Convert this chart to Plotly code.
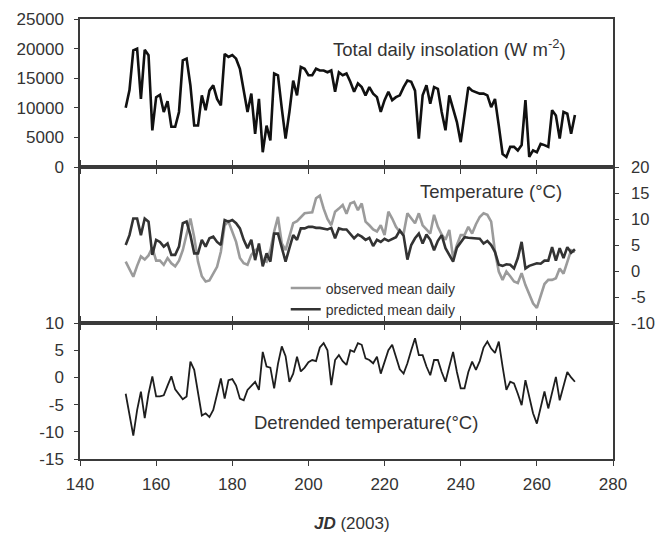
import plotly.graph_objects as go

days = list(range(152, 271))

insolation = [
    10000, 13000, 19700, 20000, 11500, 19800, 18900, 6200, 11800, 12200,
    9300, 11100, 6800, 6800, 9300, 18000, 18300, 13800, 7000, 7000,
    12100, 9600, 12900, 13800, 11500, 10400, 19100, 18600, 18900, 18300,
    16600, 12700, 9300, 12400, 5600, 11500, 2500, 7000, 4500, 15800,
    15500, 9900, 4800, 9300, 14600, 12100, 16900, 16600, 15500, 15500,
    16600, 16300, 16300, 16000, 16300, 12700, 16000, 15500, 15800, 14400,
    12700, 14100, 13500, 12100, 13500, 12400, 11800, 9300, 11300, 12700,
    11300, 11800, 12100, 13500, 14600, 14400, 12900, 4800, 12100, 13800,
    10700, 13500, 13200, 9300, 6200, 12100, 9900, 7600, 4200, 9300,
    13500, 12900, 12700, 12400, 12400, 12100, 10100, 11500, 7000, 2200,
    1700, 3400, 3400, 2800, 3700, 11300, 1700, 2800, 2500, 3900,
    3700, 3400, 9600, 8700, 4800, 9300, 9000, 5600, 8800,
]

observed = [
    1.8, 0.3, -1.1, 1.0, 2.8, 2.2, 3.0, 4.5, 2.0, 2.0,
    1.2, 2.5, 1.5, 0.9, 2.0, 4.0, 7.0, 10.1, 6.5, 1.8,
    -1.0, -2.0, -1.8, -0.5, 0.8, 3.7, 8.8, 9.5, 7.6, 5.6,
    2.5, 1.5, 1.2, 3.1, 4.0, 4.4, 2.1, 1.8, 4.0, 7.6,
    10.4, 5.3, 4.0, 6.5, 9.2, 9.6, 10.4, 11.1, 11.2, 11.3,
    14.0, 14.5, 12.0, 10.0, 8.8, 11.4, 12.0, 12.7, 11.0, 13.0,
    13.3, 11.7, 13.0, 9.5, 8.8, 8.0, 7.6, 8.8, 6.9, 11.4,
    10.1, 8.5, 7.5, 7.2, 11.1, 10.1, 9.2, 11.1, 8.8, 8.0,
    7.2, 10.8, 8.5, 7.0, 6.0, 7.9, 2.5, 5.0, 6.9, 6.9,
    8.5, 7.2, 9.0, 10.4, 11.1, 10.8, 9.5, 3.7, -0.1, -1.7,
    -0.1, -1.0, -2.0, -2.3, -0.4, -2.7, -4.5, -6.2, -7.1, -4.6,
    -2.5, -1.7, -1.7, -1.4, 0.5, -0.5, 1.8, 4.0, 3.7,
]

predicted = [
    5.0, 6.9, 10.1, 10.1, 6.9, 10.1, 9.5, 3.1, 6.0, 5.6,
    4.7, 5.3, 3.1, 3.1, 4.7, 9.2, 9.5, 6.9, 3.4, 3.4,
    6.0, 4.7, 6.3, 6.6, 5.6, 5.0, 9.8, 9.5, 9.8, 9.2,
    8.2, 6.0, 4.4, 6.0, 2.1, 5.3, 0.9, 3.4, 1.8, 7.2,
    7.2, 4.4, 1.8, 4.4, 6.9, 6.0, 8.2, 8.2, 8.5, 8.5,
    8.3, 8.3, 8.2, 8.0, 8.3, 6.3, 8.2, 8.0, 8.0, 7.2,
    6.3, 7.0, 6.6, 6.0, 6.4, 4.8, 6.0, 5.6, 6.2, 5.8,
    6.2, 6.5, 7.8, 6.8, 2.2, 5.0, 6.3, 7.2, 5.3, 7.0,
    6.0, 4.0, 5.8, 6.9, 4.4, 3.0, 1.8, 4.5, 5.5, 6.5,
    6.4, 6.3, 6.3, 6.2, 5.3, 5.8, 5.0, 3.7, 1.2, 1.0,
    1.3, 1.2, 0.5, 2.5, 5.6, 0.5, 1.0, 1.3, 1.5, 1.4,
    2.0, 2.0, 4.6, 2.0, 4.4, 2.5, 4.6, 3.5, 4.2,
]

detrended = [
    -3.0, -6.5, -10.7, -6.0, -2.6, -7.5, -3.0, 0.2, -3.5, -3.5,
    -3.3, -1.5, 0.2, -2.2, -3.0, -4.0, -3.5, 2.9, 1.4, -3.0,
    -7.0, -6.6, -7.3, -6.0, -3.0, -0.2, -3.9, -0.5, -0.3, -1.5,
    -3.9, -4.2, -2.3, -1.5, -0.8, -2.3, 4.7, 2.0, 1.8, -2.0,
    2.5, 5.7, 3.9, -0.8, 0.7, 3.8, 1.1, 1.8, 2.8, 3.2,
    3.0, 5.5, 6.3, 5.0, -1.4, 3.2, 4.1, 3.0, 2.3, 5.0,
    4.7, 6.3, 6.0, 3.5, 3.2, 2.6, 3.8, 0.7, 3.0, 5.0,
    6.0, 3.5, 1.5, 0.7, 2.6, 5.0, 7.2, 4.1, 4.1, 2.0,
    0.4, 3.2, 3.2, 1.0, -0.8, 2.0, 4.7, 1.0, -2.0, -2.0,
    1.0, 2.9, 1.4, 3.0, 5.5, 6.6, 5.3, 4.5, 6.6, 2.0,
    -2.3, -0.8, -1.1, -3.0, -5.1, -0.5, -3.5, -6.6, -8.5, -5.5,
    -2.6, -5.7, -3.0, 0.1, -4.2, -1.5, 1.0, 0.0, -0.8,
]

for arr in (insolation, observed, predicted, detrended):
    assert len(arr) == len(days), len(arr)

x_ticks = [140, 160, 180, 200, 220, 240, 260, 280]
x_ticktext = ["140", "160", "180", "200", "220", "240", "260", "280"]
ins_ticks = [0, 5000, 10000, 15000, 20000, 25000]
ins_ticktext = ["0", "5000", "10000", "15000", "20000", "25000"]
temp_ticks = [-10, -5, 0, 5, 10, 15, 20]
temp_ticktext = ["-10", "-5", "0", "5", "10", "15", "20"]
det_ticks = [-15, -10, -5, 0, 5, 10]
det_ticktext = ["-15", "-10", "-5", "0", "5", "10"]

FONT = "Liberation Sans, Arial, sans-serif"
AX = "#3a3a3a"
TICKFONT = dict(family=FONT, size=17, color="#333")

fig = go.Figure()
fig.add_trace(go.Scatter(x=days, y=insolation, mode="lines", xaxis="x", yaxis="y",
                         line=dict(color="#111111", width=2.6), showlegend=False))
fig.add_trace(go.Scatter(x=days, y=observed, mode="lines", xaxis="x2", yaxis="y2",
                         name="observed mean daily",
                         line=dict(color="#9b9b9b", width=2.6)))
fig.add_trace(go.Scatter(x=days, y=predicted, mode="lines", xaxis="x2", yaxis="y2",
                         name="predicted mean daily",
                         line=dict(color="#333333", width=2.6)))
fig.add_trace(go.Scatter(x=days, y=detrended, mode="lines", xaxis="x3", yaxis="y3",
                         line=dict(color="#1e1e1e", width=1.8), showlegend=False))

xcommon = dict(range=[140, 280], tickvals=x_ticks, showgrid=False, zeroline=False,
               showline=True, linecolor=AX, linewidth=1.5, tickcolor=AX,
               ticklen=5, tickwidth=1.2, automargin=False)
ycommon = dict(showgrid=False, zeroline=False, showline=True, linecolor=AX,
               linewidth=1.5, tickcolor=AX, ticklen=4, tickwidth=1.2,
               tickfont=TICKFONT, automargin=False)

d_top = [0.6636, 1.0]
d_mid = [0.309, 0.6636]
d_bot = [0.0, 0.309]

fig.update_layout(
    width=655, height=535,
    margin=dict(l=80, r=42, t=19, b=76),
    paper_bgcolor="white", plot_bgcolor="white",
    font=dict(family=FONT, color="#333"),
    xaxis=dict(xcommon, anchor="y", ticks="outside", mirror=True, showticklabels=False),
    xaxis2=dict(xcommon, anchor="y2", matches="x", ticks="outside", mirror="ticks",
                showticklabels=False),
    xaxis3=dict(xcommon, anchor="y3", matches="x", ticks="outside", mirror="ticks",
                showticklabels=True, ticktext=x_ticktext, ticklabelstandoff=4,
                tickfont=TICKFONT),
    yaxis=dict(ycommon, domain=d_top, anchor="x", range=[0, 25000], tickvals=ins_ticks,
               ticktext=ins_ticktext, ticks="outside", mirror=True, ticklabelstandoff=7),
    yaxis2=dict(ycommon, domain=d_mid, anchor="x2", side="right", range=[-10, 20],
                tickvals=temp_ticks, ticktext=temp_ticktext, ticks="outside", mirror=True,
                ticklabelstandoff=9, tickfont=dict(family=FONT, size=16.5, color="#333")),
    yaxis3=dict(ycommon, domain=d_bot, anchor="x3", range=[-15, 10], tickvals=det_ticks,
                ticktext=det_ticktext, ticks="outside", mirror=True, ticklabelstandoff=7),
    legend=dict(x=0.386, y=0.424, xanchor="left", yanchor="top", bgcolor="rgba(0,0,0,0)",
                font=dict(family=FONT, size=14, color="#333"), tracegroupgap=0,
                itemwidth=30),
    annotations=[
        dict(text="Total daily insolation (W m<sup>-2</sup>)", x=0.694, y=0.934,
             xref="paper", yref="paper", xanchor="center", yanchor="middle",
             showarrow=False, font=dict(family=FONT, size=18.5, color="#333")),
        dict(text="Temperature (°C)", x=0.772, y=0.607, xref="paper", yref="paper",
             xanchor="center", yanchor="middle",
             showarrow=False, font=dict(family=FONT, size=18.5, color="#333")),
        dict(text="Detrended temperature(°C)", x=0.5375, y=0.084, xref="paper",
             yref="paper", xanchor="center", yanchor="middle", showarrow=False,
             font=dict(family=FONT, size=18.5, color="#333")),
        dict(text="<b><i>JD</i></b> (2003)", x=0.51, y=-0.147, xref="paper",
             yref="paper", xanchor="center", yanchor="middle", showarrow=False,
             font=dict(family=FONT, size=17, color="#333")),
    ],
)

fig.write_html("out.html")
